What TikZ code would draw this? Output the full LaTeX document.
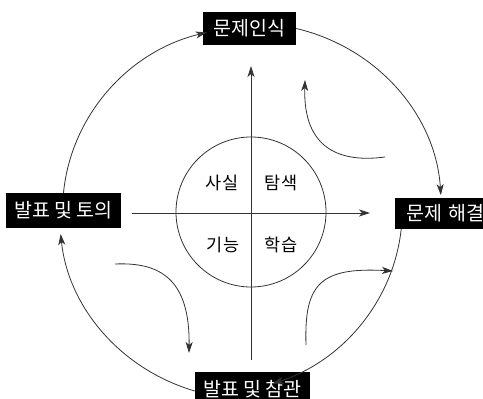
\documentclass[tikz,border=0pt]{standalone}
\usepackage{fontspec}
\setmainfont{Noto Sans CJK KR}
\usetikzlibrary{arrows.meta}
\tikzset{
  lbl/.style={fill=black, text=white, inner sep=0pt, font=\fontsize{19.5}{21}\selectfont},
  inner/.style={inner sep=0pt, font=\fontsize{17.5}{19}\selectfont, text=black},
  ln/.style={draw=black!80, line width=0.8pt},
  arr/.style={ln, -{Stealth[length=11pt,width=7pt,inset=3pt]}}
}
\begin{document}
\begin{tikzpicture}[x=1pt,y=1pt]
\useasboundingbox (0,0) rectangle (483,399);
% labels
\node[lbl, minimum width=93pt, minimum height=33pt] (top) at (249.5,370.5) {문제인식};
\node[lbl, minimum width=115pt, minimum height=35pt] (left) at (63.5,188.5) {발표 및 토의};
\node[lbl, minimum width=100pt, minimum height=31pt, anchor=west, text width=88pt, align=center] (right) at (395,185.5) {문제 해결};
\node[lbl, minimum width=115pt, minimum height=33pt] (bottom) at (252.5,10) {발표 및 참관};
% outer cycle arcs
\draw[arr] (left.north) arc[start angle=174.6, end angle=104, x radius=190, y radius=183];
\draw[arr] (top.east) arc[start angle=76.3, end angle=3.5, x radius=190, y radius=183];
\draw[arr] ([xshift=-44pt]right.south) arc[start angle=-6, end angle=-71.5, x radius=190, y radius=183];
\draw[arr] ([yshift=-2pt]bottom.west) arc[start angle=253.2, end angle=185.7, x radius=190, y radius=183];
% axes
\coordinate (vb) at (251,39);
\coordinate (vt) at (251,333);
\coordinate (hl) at (132,186);
\coordinate (hr) at (370,186);
\draw[arr] (vb) -- (vt);
\draw[arr] (hl) -- (hr);
% inner circle
\node[ln, circle, minimum size=150pt, inner sep=0pt] (c) at (251,187) {};
\node[inner] (t1) at (222,216) {사실};
\node[inner] (t2) at (281,216) {탐색};
\node[inner] (t3) at (223,154) {기능};
\node[inner] (t4) at (281,154) {학습};
% curved arrows
\coordinate (a1s) at (385,242);
\coordinate (a1e) at (305,319);
\draw[arr] (a1s) .. controls (340,236) and (303,250) .. (a1e);
\coordinate (a2s) at (115,135);
\coordinate (a2e) at (189,46);
\draw[arr] (a2s) .. controls (160,137) and (190,120) .. (a2e);
\coordinate (a3s) at (306,54);
\coordinate (a3e) at (393,128);
\draw[arr] (a3s) .. controls (304,115) and (320,132) .. (a3e);
\end{tikzpicture}
\end{document}
